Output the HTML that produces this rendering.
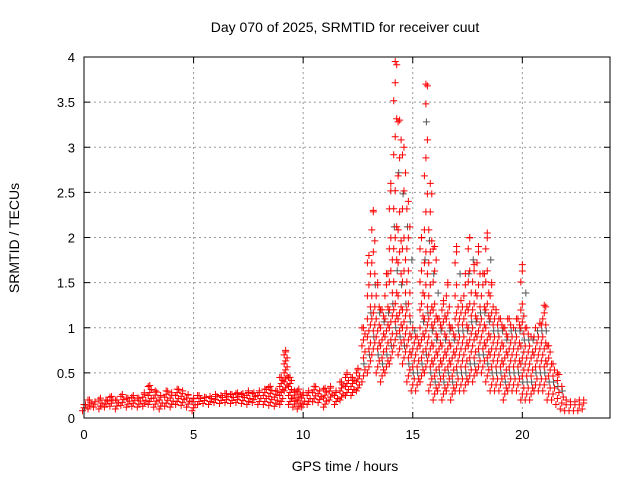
<!DOCTYPE html>
<html><head><meta charset="utf-8"><style>
html,body{margin:0;padding:0;background:#fff}
svg{display:block;font-family:"Liberation Sans",sans-serif}
</style></head><body>
<svg id="chart" width="640" height="480">
<text x="345" y="32" font-size="14" text-anchor="middle">Day 070 of 2025, SRMTID for receiver cuut</text>
<text x="345" y="471" font-size="14" text-anchor="middle">GPS time / hours</text>
<text transform="translate(19,238) rotate(-90)" font-size="14" text-anchor="middle">SRMTID / TECUs</text>
<g id="grid"></g><g id="marks"></g><g id="axes"></g>
</svg>
<script>
const baseTimes=[0,0.25,0.5,0.75,1,1.25,1.5,1.75,2,2.25,2.5,2.75,3,3.25,3.5,3.75,4,4.25,4.5,4.75,5,5.25,5.5,5.75,6,6.25,6.5,6.75,7,7.25,7.5,7.75,8,8.25,8.5,8.75,9,9.2,9.4,9.6,9.8,10,10.25,10.5,10.75,11,11.25,11.5,11.75,12,12.25,12.5];
const baseLo=[0.08,0.1,0.12,0.1,0.12,0.13,0.1,0.14,0.12,0.13,0.12,0.13,0.15,0.12,0.1,0.13,0.12,0.15,0.14,0.12,0.08,0.15,0.16,0.15,0.17,0.16,0.17,0.16,0.17,0.16,0.15,0.17,0.15,0.15,0.14,0.13,0.15,0.3,0.15,0.12,0.1,0.12,0.15,0.18,0.17,0.12,0.2,0.15,0.2,0.25,0.25,0.3];
const baseHi=[0.15,0.2,0.18,0.22,0.2,0.24,0.2,0.26,0.22,0.25,0.22,0.28,0.36,0.3,0.25,0.3,0.28,0.32,0.3,0.26,0.22,0.25,0.23,0.24,0.26,0.25,0.27,0.26,0.28,0.27,0.3,0.28,0.3,0.32,0.35,0.3,0.45,0.75,0.45,0.3,0.32,0.28,0.3,0.35,0.3,0.33,0.35,0.3,0.4,0.5,0.45,0.55];
const actTimes=[12.75,13.0,13.2,13.4,13.6,13.8,14.0,14.2,14.4,14.6,14.8,15.0,15.2,15.4,15.6,15.8,16.0,16.2,16.4,16.6,16.8,17.0,17.2,17.4,17.6,17.8,18.0,18.2,18.4,18.6,18.8,19.0,19.2,19.4,19.6,19.8,20.0,20.2,20.4,20.6,20.8,21.0,21.2,21.4,21.6,21.8,22.0,22.2,22.4,22.6,22.8];
const actLo=[0.4,0.5,0.7,0.5,0.4,0.5,0.6,0.8,0.7,0.6,0.4,0.3,0.3,0.4,0.5,0.3,0.2,0.3,0.2,0.3,0.2,0.3,0.3,0.3,0.4,0.4,0.5,0.5,0.4,0.3,0.3,0.3,0.2,0.3,0.3,0.3,0.2,0.2,0.2,0.3,0.3,0.3,0.2,0.2,0.15,0.1,0.08,0.08,0.08,0.08,0.1];
const actHi=[1.0,1.8,2.3,1.5,1.2,1.6,2.6,3.95,3.3,3.0,2.4,1.0,0.9,2.0,3.7,2.6,1.9,1.1,1.3,1.5,1.0,1.9,1.3,1.6,2.0,1.7,1.9,1.6,2.05,1.5,1.2,1.1,1.0,1.1,1.0,1.1,1.7,1.0,0.9,1.0,1.05,1.25,0.8,0.6,0.5,0.35,0.2,0.18,0.18,0.2,0.2];
const xTicks=[0,5,10,15,20];
const yTicks=[0,0.5,1,1.5,2,2.5,3,3.5,4];
const yTickLabels=["0","0.5","1","1.5","2","2.5","3","3.5","4"];

const L=84,R=610,T=57,B=418,XMAX=24,YMAX=4;
const xs=v=>L+(v/XMAX)*(R-L);
const ys=v=>B-(v/YMAX)*(B-T);
const NS="http://www.w3.org/2000/svg";
function mk(tag,attrs,parent){const e=document.createElementNS(NS,tag);for(const k in attrs)e.setAttribute(k,attrs[k]);parent.appendChild(e);return e;}
const grid=document.getElementById('grid'),axes=document.getElementById('axes'),marks=document.getElementById('marks');
xTicks.forEach(t=>{
  if(t>0){const g=mk('line',{x1:xs(t),x2:xs(t),y1:T,y2:B,stroke:'#999','stroke-dasharray':'2,3'},grid);
  
  }
  mk('line',{x1:xs(t),x2:xs(t),y1:B,y2:B-6,stroke:'#000'},axes);
  mk('line',{x1:xs(t),x2:xs(t),y1:T,y2:T+6,stroke:'#000'},axes);
  const tx=mk('text',{x:xs(t),y:B+21,'font-size':13,'text-anchor':'middle'},axes);tx.textContent=t;
  
  
});
yTicks.forEach((t,i)=>{
  if(t>0&&t<4){const g=mk('line',{x1:L,x2:R,y1:ys(t),y2:ys(t),stroke:'#999','stroke-dasharray':'2,3'},grid);
  
  }
  mk('line',{x1:L,x2:L+6,y1:ys(t),y2:ys(t),stroke:'#000'},axes);
  mk('line',{x1:R,x2:R-6,y1:ys(t),y2:ys(t),stroke:'#000'},axes);
  const tx=mk('text',{x:L-9,y:ys(t)+5,'font-size':13,'text-anchor':'end'},axes);tx.textContent=yTickLabels[i];
  
  
});
const frame=mk('rect',{x:L,y:T,width:R-L,height:B-T,fill:'none',stroke:'#000'},axes);


let d='',dg='';
function cross(x,y){return `M${x-3.5},${y}h7M${x},${y-3.5}v7`;}
function drawRange(times,lo,hi,active){
  for(let i=0;i<times.length;i++){
    const x=xs(times[i]),y1=ys(hi[i]),y0=ys(lo[i]);
    let k=0;
    for(let y=y0;y>=y1-0.1;){
      const xx=x+((k%3)-1)*1.5;
      if(active&&k%7===3)dg+=cross(xx+2,y);else d+=cross(xx,y);
      k++;
      if(!active)y-=3;
      else y-=(y>ys(1.2)?6:(y>ys(2)?11:18));
    }
    d+=cross(x,y1);
  }
}
drawRange(baseTimes,baseLo,baseHi,false);
drawRange(actTimes,actLo,actHi,true);
const pg=mk('path',{d:dg,stroke:'#555','stroke-width':1,fill:'none'},marks);


const pr=mk('path',{d:d,stroke:'#f00','stroke-width':1,fill:'none'},marks);


</script>
</body></html>
